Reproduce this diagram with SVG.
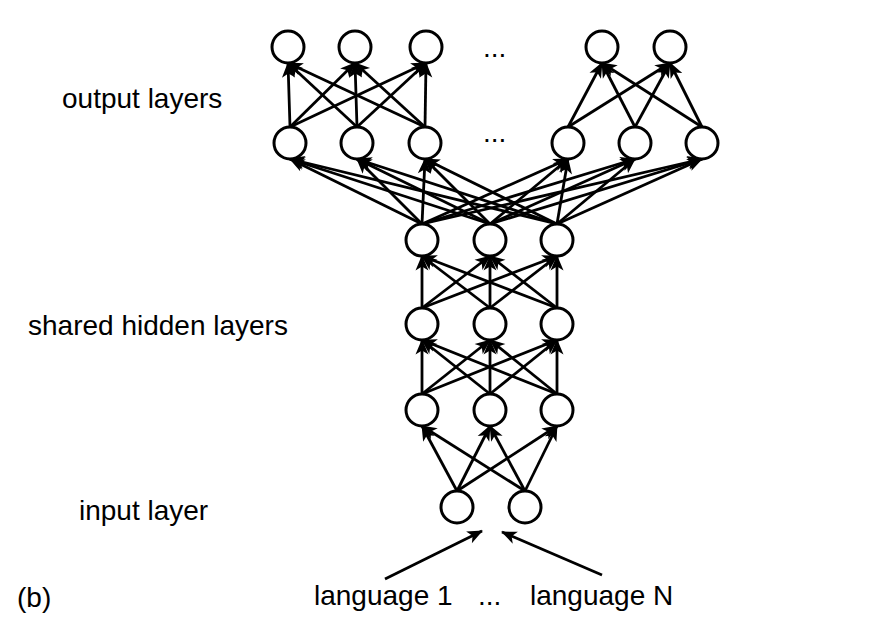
<svg xmlns="http://www.w3.org/2000/svg" width="884" height="627" viewBox="0 0 884 627">
<style>
.n{fill:#fff;stroke:#000;stroke-width:3}
.e{stroke:#000;stroke-width:2.8;fill:none;marker-end:url(#ah)}
text{font-family:"Liberation Sans",Arial,sans-serif;font-size:28px;fill:#000}
</style>
<defs>
<marker id="ah" markerUnits="userSpaceOnUse" markerWidth="18" markerHeight="14" viewBox="-16 -7 18 14" refX="0" refY="0" orient="auto">
<path d="M1,0 L-14.5,-6.5 L-10.5,0 L-14.5,6.5 z" fill="#000"/>
</marker>
</defs>
<rect width="884" height="627" fill="#fff"/>
<g id="connectors">
<line class="e" x1="290" y1="127" x2="288" y2="63"/>
<line class="e" x1="290" y1="127" x2="355" y2="63"/>
<line class="e" x1="290" y1="127" x2="426" y2="63"/>
<line class="e" x1="357" y1="127" x2="288" y2="63"/>
<line class="e" x1="357" y1="127" x2="355" y2="63"/>
<line class="e" x1="357" y1="127" x2="426" y2="63"/>
<line class="e" x1="425" y1="127" x2="288" y2="63"/>
<line class="e" x1="425" y1="127" x2="355" y2="63"/>
<line class="e" x1="425" y1="127" x2="426" y2="63"/>
<line class="e" x1="568" y1="127" x2="602" y2="63"/>
<line class="e" x1="568" y1="127" x2="670" y2="63"/>
<line class="e" x1="635" y1="127" x2="602" y2="63"/>
<line class="e" x1="635" y1="127" x2="670" y2="63"/>
<line class="e" x1="702" y1="127" x2="602" y2="63"/>
<line class="e" x1="702" y1="127" x2="670" y2="63"/>
<line class="e" x1="422" y1="224" x2="290" y2="159"/>
<line class="e" x1="422" y1="224" x2="357" y2="159"/>
<line class="e" x1="422" y1="224" x2="425" y2="159"/>
<line class="e" x1="422" y1="224" x2="568" y2="159"/>
<line class="e" x1="422" y1="224" x2="635" y2="159"/>
<line class="e" x1="422" y1="224" x2="702" y2="159"/>
<line class="e" x1="490" y1="224" x2="290" y2="159"/>
<line class="e" x1="490" y1="224" x2="357" y2="159"/>
<line class="e" x1="490" y1="224" x2="425" y2="159"/>
<line class="e" x1="490" y1="224" x2="568" y2="159"/>
<line class="e" x1="490" y1="224" x2="635" y2="159"/>
<line class="e" x1="490" y1="224" x2="702" y2="159"/>
<line class="e" x1="557" y1="224" x2="290" y2="159"/>
<line class="e" x1="557" y1="224" x2="357" y2="159"/>
<line class="e" x1="557" y1="224" x2="425" y2="159"/>
<line class="e" x1="557" y1="224" x2="568" y2="159"/>
<line class="e" x1="557" y1="224" x2="635" y2="159"/>
<line class="e" x1="557" y1="224" x2="702" y2="159"/>
<line class="e" x1="422" y1="308" x2="422" y2="256"/>
<line class="e" x1="422" y1="308" x2="490" y2="256"/>
<line class="e" x1="422" y1="308" x2="557" y2="256"/>
<line class="e" x1="490" y1="308" x2="422" y2="256"/>
<line class="e" x1="490" y1="308" x2="490" y2="256"/>
<line class="e" x1="490" y1="308" x2="557" y2="256"/>
<line class="e" x1="557" y1="308" x2="422" y2="256"/>
<line class="e" x1="557" y1="308" x2="490" y2="256"/>
<line class="e" x1="557" y1="308" x2="557" y2="256"/>
<line class="e" x1="422" y1="394" x2="422" y2="340"/>
<line class="e" x1="422" y1="394" x2="490" y2="340"/>
<line class="e" x1="422" y1="394" x2="557" y2="340"/>
<line class="e" x1="490" y1="394" x2="422" y2="340"/>
<line class="e" x1="490" y1="394" x2="490" y2="340"/>
<line class="e" x1="490" y1="394" x2="557" y2="340"/>
<line class="e" x1="557" y1="394" x2="422" y2="340"/>
<line class="e" x1="557" y1="394" x2="490" y2="340"/>
<line class="e" x1="557" y1="394" x2="557" y2="340"/>
<line class="e" x1="457" y1="491" x2="422" y2="426"/>
<line class="e" x1="457" y1="491" x2="490" y2="426"/>
<line class="e" x1="457" y1="491" x2="557" y2="426"/>
<line class="e" x1="525" y1="491" x2="422" y2="426"/>
<line class="e" x1="525" y1="491" x2="490" y2="426"/>
<line class="e" x1="525" y1="491" x2="557" y2="426"/>
<line class="e" x1="385" y1="579" x2="482" y2="531"/>
<line class="e" x1="602" y1="575" x2="502" y2="532"/>
</g>
<g id="out-top-1"><circle class="n" cx="288" cy="47" r="16"/></g>
<g id="out-top-2"><circle class="n" cx="355" cy="47" r="16"/></g>
<g id="out-top-3"><circle class="n" cx="426" cy="47" r="16"/></g>
<g id="out-top-4"><circle class="n" cx="602" cy="47" r="16"/></g>
<g id="out-top-5"><circle class="n" cx="670" cy="47" r="16"/></g>
<g id="out-1"><circle class="n" cx="290" cy="143" r="16"/></g>
<g id="out-2"><circle class="n" cx="357" cy="143" r="16"/></g>
<g id="out-3"><circle class="n" cx="425" cy="143" r="16"/></g>
<g id="out-4"><circle class="n" cx="568" cy="143" r="16"/></g>
<g id="out-5"><circle class="n" cx="635" cy="143" r="16"/></g>
<g id="out-6"><circle class="n" cx="702" cy="143" r="16"/></g>
<g id="h3-1"><circle class="n" cx="422" cy="240" r="16"/></g>
<g id="h3-2"><circle class="n" cx="490" cy="240" r="16"/></g>
<g id="h3-3"><circle class="n" cx="557" cy="240" r="16"/></g>
<g id="h2-1"><circle class="n" cx="422" cy="324" r="16"/></g>
<g id="h2-2"><circle class="n" cx="490" cy="324" r="16"/></g>
<g id="h2-3"><circle class="n" cx="557" cy="324" r="16"/></g>
<g id="h1-1"><circle class="n" cx="422" cy="410" r="16"/></g>
<g id="h1-2"><circle class="n" cx="490" cy="410" r="16"/></g>
<g id="h1-3"><circle class="n" cx="557" cy="410" r="16"/></g>
<g id="in-1"><circle class="n" cx="457" cy="507" r="16"/></g>
<g id="in-2"><circle class="n" cx="525" cy="507" r="16"/></g>
<g id="labels">
<text x="483" y="57">...</text>
<text x="483" y="142">...</text>
<text x="62" y="108">output layers</text>
<text x="28" y="335">shared hidden layers</text>
<text x="79" y="520">input layer</text>
<text x="17" y="607">(b)</text>
<text x="314" y="605">language 1</text>
<text x="478" y="605">...</text>
<text x="530" y="605">language N</text>
</g>
</svg>
